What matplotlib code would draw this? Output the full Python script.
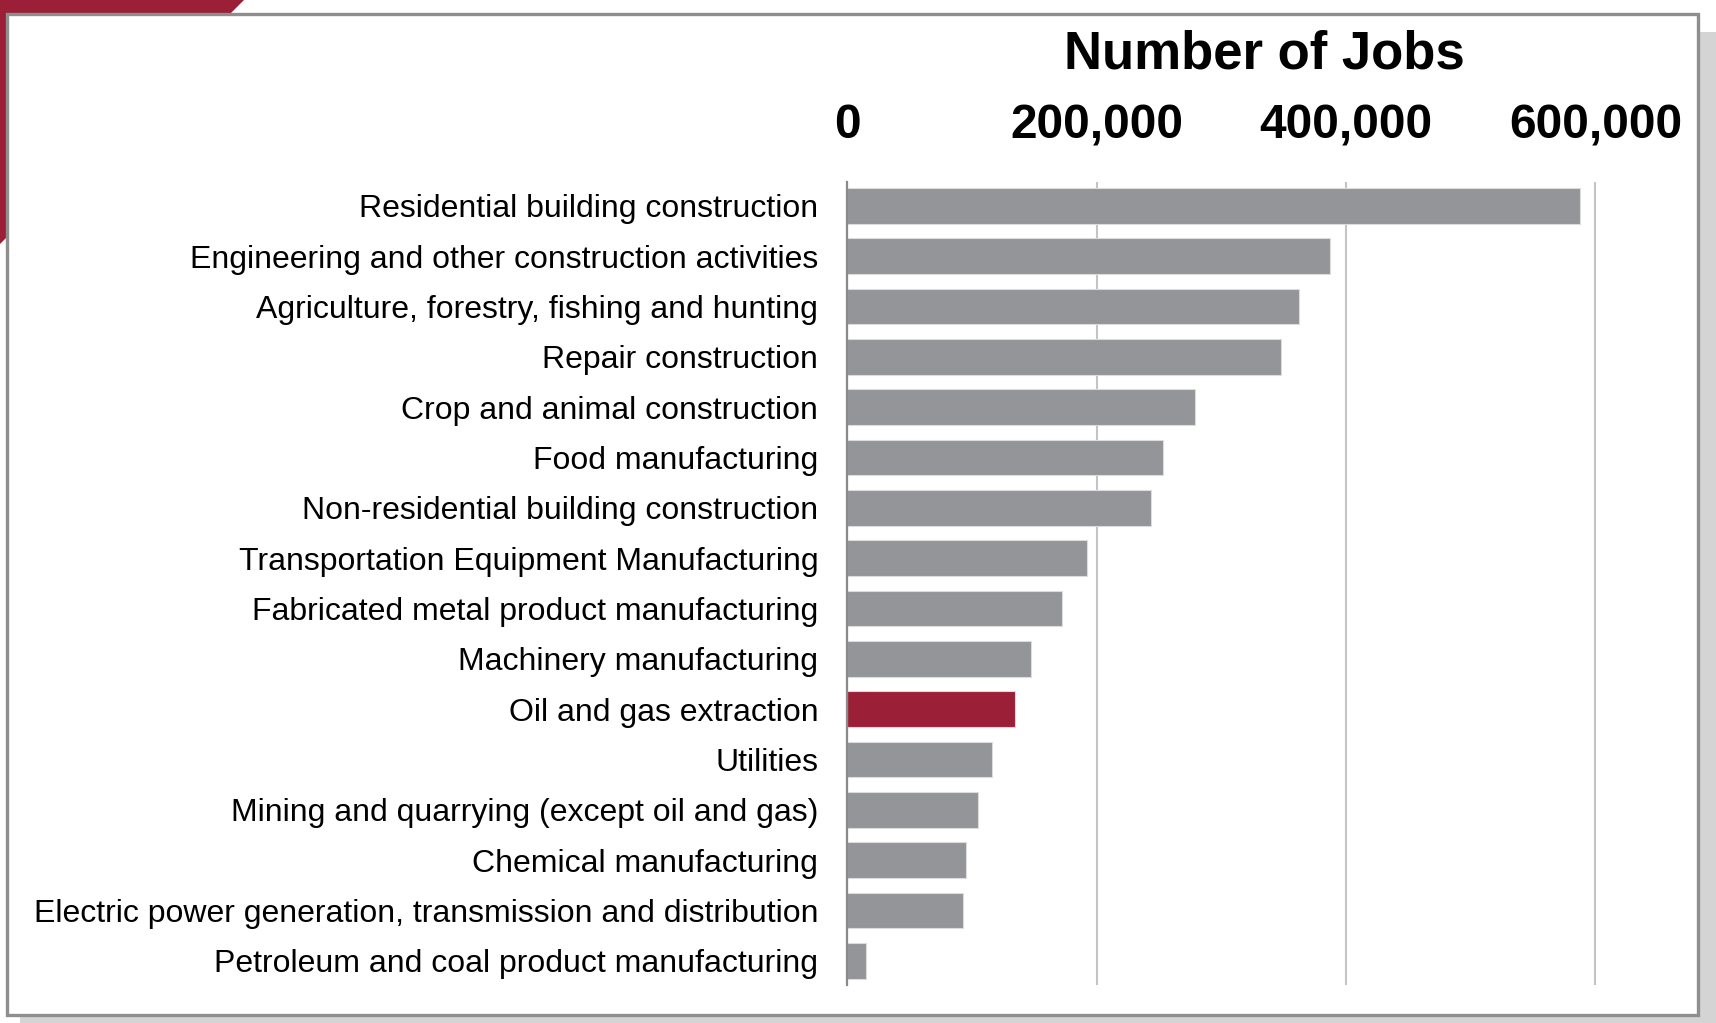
import matplotlib
matplotlib.use("Agg")
import matplotlib.pyplot as plt
from matplotlib.patches import Rectangle, Polygon

plt.rcParams['font.family'] = ['Liberation Sans', 'DejaVu Sans']

#------------------------------------------------------------------------------------
industries = ['Residential building construction',
              'Engineering and other construction activities',
              'Agriculture, forestry, fishing and hunting',
              'Repair construction',
              'Crop and animal construction',
              'Food manufacturing',
              'Non-residential building construction',
              'Transportation Equipment Manufacturing',
              'Fabricated metal product manufacturing',
              'Machinery manufacturing',
              'Oil and gas extraction',
              'Utilities',
              'Mining and quarrying (except oil and gas)',
              'Chemical manufacturing',
              'Electric power generation, transmission and distribution',
              'Petroleum and coal product manufacturing']
jobs = [588000, 387000, 362000, 348000, 279000, 253000, 243500, 192500,
        172000, 147000, 134500, 116000, 105000, 95500, 92500, 15000]
highlight = 'Oil and gas extraction'
xticks = [0, 200000, 400000, 600000]
xtick_labels = ['0', '200,000', '400,000', '600,000']
title = 'Number of Jobs'
#------------------------------------------------------------------------------------

W, H = 1716, 1023
fig = plt.figure(figsize=(W/100, H/100), dpi=100)
fig.patch.set_facecolor('white')

def fx(px):
  return px/W
def fy(py):
  return 1.0 - py/H

# frame: red corner, drop shadow, white box with grey border
fig.patches.append(Polygon([(fx(0), fy(0)), (fx(244), fy(0)), (fx(0), fy(244))],
                           closed=True, transform=fig.transFigure,
                           facecolor='#9b1f36', edgecolor='none', zorder=-3))
fig.patches.append(Rectangle((fx(20), fy(1023)), fx(1716)-fx(20), fy(32)-fy(1023),
                             transform=fig.transFigure, facecolor='#d4d4d4',
                             edgecolor='none', zorder=-3))
fig.patches.append(Rectangle((fx(7), fy(1015)), fx(1698)-fx(7), fy(14)-fy(1015),
                             transform=fig.transFigure, facecolor='white',
                             edgecolor='#8e8e8e', linewidth=2.4, zorder=-2))

ax = fig.add_axes([fx(847.3), fy(985), fx(1645.3)-fx(847.3), fy(181.7)-fy(985)])
ax.set_zorder(2)
ax.set_facecolor('none')

colors = ['#9b1f36' if n == highlight else '#949599' for n in industries]
ypos = list(range(len(industries)))
ax.barh(ypos, jobs, height=0.71, color=colors, edgecolor='#dcdcdc',
        linewidth=0.8, zorder=3)

ax.set_xlim(0, 640000)
ax.set_ylim(len(industries) - 0.52, -0.48)

ax.set_yticks(ypos)
ax.set_yticklabels(industries, fontsize=23)
ax.set_xticks(xticks)
ax.set_xticklabels(xtick_labels, fontsize=34.5, fontweight='bold')
ax.xaxis.tick_top()
ax.tick_params(axis='x', length=0, pad=24)
ax.tick_params(axis='y', length=0, pad=21)

ax.grid(axis='x', color='#c4c4c4', linewidth=1.5, zorder=1)
ax.grid(axis='y', visible=False)
for s in ['top', 'right', 'bottom']:
  ax.spines[s].set_visible(False)
ax.spines['left'].set_color('#8a8a8a')
ax.spines['left'].set_linewidth(1.6)
ax.spines['left'].set_zorder(4)

fig.text(fx(1264), fy(68.3), title, fontsize=38, fontweight='bold',
         ha='center', va='baseline')

fig.savefig('out.png', dpi=100)
